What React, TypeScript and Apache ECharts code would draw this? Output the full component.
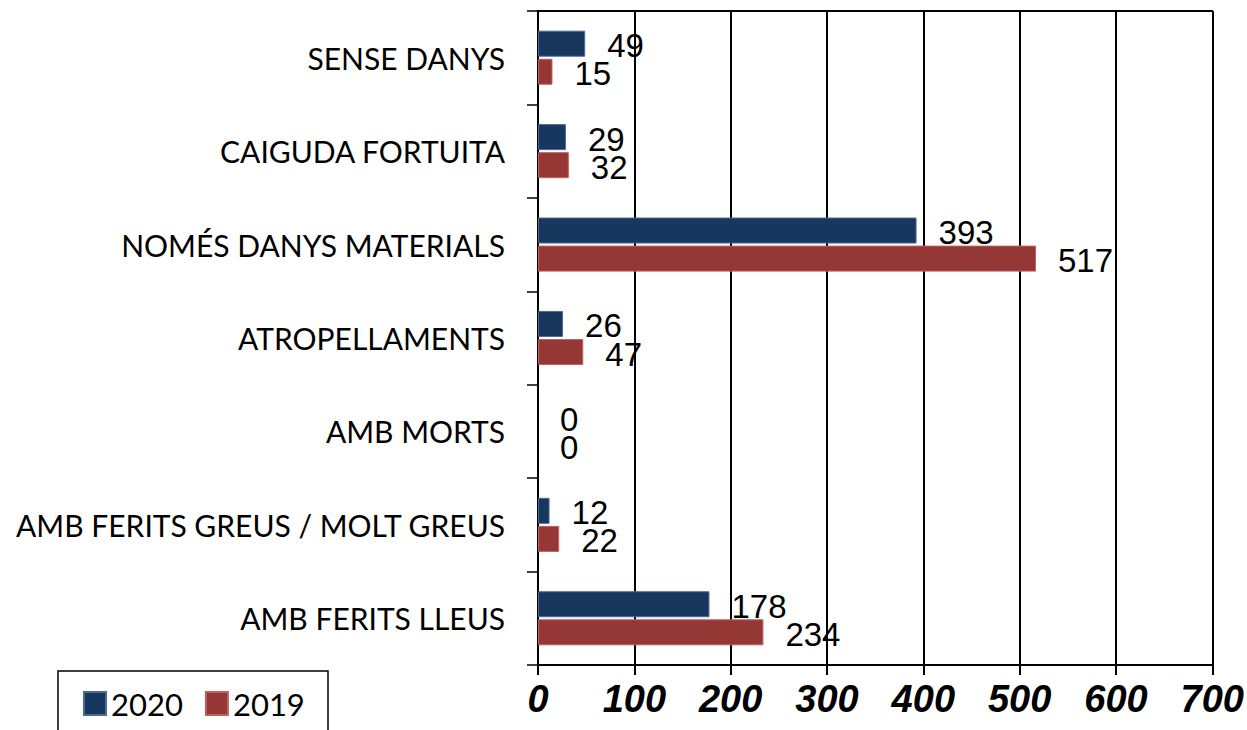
import React, { useEffect, useRef } from "react";
import * as echarts from "echarts";

const categories = [
  "SENSE DANYS",
  "CAIGUDA FORTUITA",
  "NOMÉS DANYS MATERIALS",
  "ATROPELLAMENTS",
  "AMB MORTS",
  "AMB FERITS GREUS / MOLT GREUS",
  "AMB FERITS LLEUS",
];
const values2020 = [49, 29, 393, 26, 0, 12, 178];
const values2019 = [15, 32, 517, 47, 0, 22, 234];
const seriesNames = ["2020", "2019"];

const toData = (arr: number[]) =>
  arr.map((v) =>
    v === 0 ? { value: v, itemStyle: { borderWidth: 0, borderColor: "rgba(0,0,0,0)" } } : v
  );

export default function App() {
  const ref = useRef<HTMLDivElement>(null);
  useEffect(() => {
    if (!ref.current) return;
    const chart = echarts.init(ref.current, null, { renderer: "svg" });
    const labelStyle = {
      show: true,
      position: "right" as const,
      distance: 22,
      offset: [0, 2],
      fontFamily: "Liberation Sans, Arial, sans-serif",
      fontSize: 33,
      color: "#000",
    };
    chart.setOption({
      animation: false,
      backgroundColor: "#fff",
      grid: { left: 538, right: 34, top: 11, bottom: 65, containLabel: false },
      legend: {
        left: 83,
        top: 688,
        padding: 0,
        icon: "rect",
        itemWidth: 22,
        itemHeight: 23,
        itemGap: 22,
        textStyle: { fontFamily: "Lato, sans-serif", fontSize: 31, color: "#000" },
        data: seriesNames,
      },
      xAxis: [
        {
          type: "value",
          min: 0,
          max: 700,
          interval: 100,
          position: "bottom",
          axisLine: { show: true, lineStyle: { color: "#000", width: 2 } },
          axisTick: { show: true, length: 10, lineStyle: { color: "#000", width: 2 } },
          splitLine: { show: true, lineStyle: { color: "#000", width: 2 } },
          axisLabel: {
            margin: 15,
            fontFamily: "Liberation Sans, Arial, sans-serif",
            fontSize: 38,
            fontWeight: "bold",
            fontStyle: "italic",
            color: "#000",
          },
        },
        {
          type: "value",
          min: 0,
          max: 700,
          interval: 100,
          position: "top",
          axisLine: { show: true, lineStyle: { color: "#000", width: 2 } },
          axisTick: { show: false },
          splitLine: { show: false },
          axisLabel: { show: false },
        },
      ],
      yAxis: {
        type: "category",
        inverse: true,
        data: categories,
        axisLine: { show: true, lineStyle: { color: "#000", width: 2 } },
        axisTick: { show: true, length: 11, lineStyle: { color: "#000", width: 1.5 } },
        axisLabel: {
          margin: 33,
          fontFamily: "Lato, sans-serif",
          fontSize: 30,
          color: "#000",
        },
      },
      series: [
        {
          name: seriesNames[0],
          type: "bar",
          data: toData(values2020),
          barWidth: 26,
          barGap: "8%",
          itemStyle: { color: "#17375e", borderColor: "#4a6a96", borderWidth: 1 },
          label: labelStyle,
        },
        {
          name: seriesNames[1],
          type: "bar",
          data: toData(values2019),
          barWidth: 26,
          barGap: "8%",
          itemStyle: { color: "#953735", borderColor: "#c0605d", borderWidth: 1 },
          label: labelStyle,
        },
      ],
      graphic: [
        {
          type: "rect",
          shape: { x: 58, y: 671, width: 270, height: 80 },
          style: { fill: "none", stroke: "#000", lineWidth: 1.5 },
          z: 100,
        },
      ],
    });
    return () => chart.dispose();
  }, []);
  return (
    <div
      ref={ref}
      style={{ position: "fixed", left: 0, top: 0, width: 1247, height: 730 }}
    />
  );
}
